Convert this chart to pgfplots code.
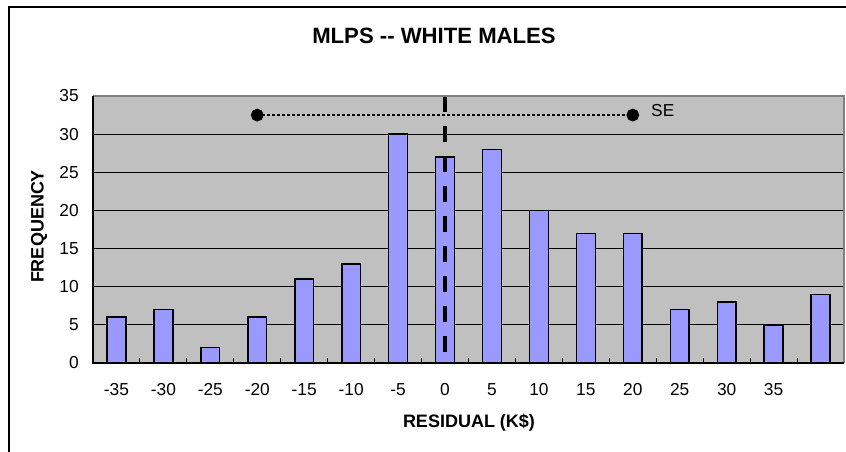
\documentclass[border=0pt]{standalone}
\usepackage{fontspec}
\setmainfont{Liberation Sans}[Ligatures=NoCommon]
\usepackage{pgfplots}
\pgfplotsset{compat=1.18}
\definecolor{barblue}{HTML}{9999FF}
\definecolor{plotbg}{HTML}{C0C0C0}
\definecolor{bordergray}{HTML}{808080}
\begin{document}
\begin{tikzpicture}
\begin{axis}[
  scale only axis,
  width=563.25pt, height=200.25pt,
  xmin=-0.5, xmax=15.5, ymin=0, ymax=35,
  axis line style={draw=none},
  axis background/.style={fill=plotbg},
  xtick={0,...,14},
  xticklabels={-35,-30,-25,-20,-15,-10,-5,0,5,10,15,20,25,30,35},
  minor xtick={-0.5,0.5,...,15.5},
  ytick={0,5,...,35},
  xtick pos=lower, ytick pos=left,
  major tick length=0pt,
  minor tick length=3.75pt,
  tick align=inside,
  minor tick style={black, line width=0.8pt},
  ymajorgrids,
  grid style={black, line width=0.7pt},
  /pgf/number format/assume math mode=true,
  tick label style={font=\fontsize{13}{15}\selectfont, inner sep=0pt},
  xticklabel style={anchor=north, yshift=-15pt},
  yticklabel style={anchor=east, xshift=-10.5pt},
  clip=false,
]
\addplot[ybar, bar width=0.4, fill=barblue, draw=black, line width=1.1pt]
  coordinates {(0,6) (1,7) (2,2) (3,6) (4,11) (5,13) (6,30) (7,27)
               (8,28) (9,20) (10,17) (11,17) (12,7) (13,8) (14,5) (15,9)};
\addplot[black, line width=2pt, dash pattern=on 2pt off 1.75pt,
  mark=*, mark size=3.75pt, mark options={solid, fill=black}]
  coordinates {(3,32.5) (11,32.5)};
\addplot[black, line width=3pt, dash pattern=on 12pt off 10.5pt]
  coordinates {(7,35) (7,0)};
\draw[bordergray, line width=1.2pt] (rel axis cs:0,1) -- (rel axis cs:1,1) -- (rel axis cs:1,0);
\draw[black, line width=1.2pt] (rel axis cs:0,1) -- (rel axis cs:0,0) -- (rel axis cs:1,0);
\node[anchor=base west, inner sep=0pt, font=\fontsize{13}{15}\selectfont]
  at (axis cs:11.387,32.28) {SE};
\coordinate (O) at (rel axis cs:0,0);
\end{axis}
\begin{scope}[shift={(O)}, shift={(-69.75pt,272.25pt)}, x=0.75pt, y=-0.75pt]
\pgfresetboundingbox
\useasboundingbox (0,0) rectangle (846,452);
\draw[black, line width=0.9pt] (9,452) -- (9,7) -- (846,7);
\node[anchor=base, inner sep=0pt, font=\fontsize{16.6}{19}\selectfont\bfseries] at (434,44) {MLPS -{}- WHITE MALES};
\node[anchor=base, inner sep=0pt, font=\fontsize{13.5}{16}\selectfont\bfseries] at (469,428) {RESIDUAL (K\$)};
\node[rotate=90, inner sep=0pt, font=\fontsize{13.5}{16}\selectfont\bfseries] at (39,226.5) {FREQUENCY};
\end{scope}
\end{tikzpicture}
\end{document}
